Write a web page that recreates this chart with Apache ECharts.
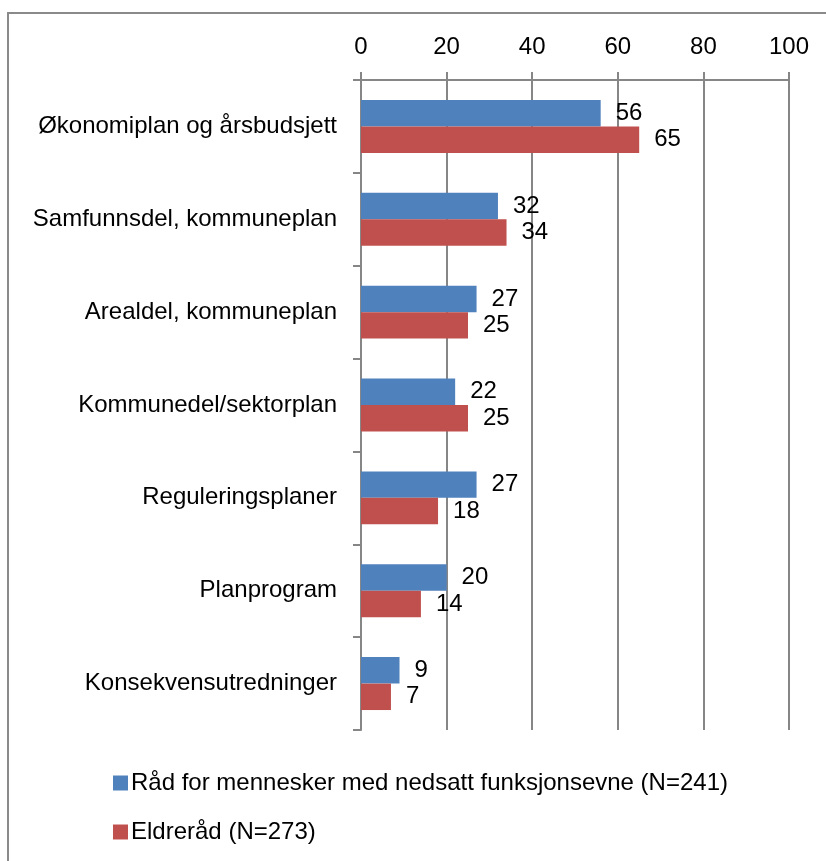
<!DOCTYPE html>
<html>
<head>
<meta charset="utf-8">
<script src="https://cdn.jsdelivr.net/npm/echarts@6/dist/echarts.min.js"></script>
<style>
html,body{margin:0;padding:0;background:#fff;}
#c{width:826px;height:861px;}
</style>
</head>
<body>
<div id="c"></div>
<script>
const categories = ["Økonomiplan og årsbudsjett","Samfunnsdel, kommuneplan","Arealdel, kommuneplan","Kommunedel/sektorplan","Reguleringsplaner","Planprogram","Konsekvensutredninger"];
const seriesNames = ["Råd for mennesker med nedsatt funksjonsevne (N=241)","Eldreråd (N=273)"];
const blueValues = [56,32,27,22,27,20,9];
const redValues = [65,34,25,25,18,14,7];
const valueTicks = [0,20,40,60,80,100];

const FONT = "Liberation Sans";
const FS = 24;
const chart = echarts.init(document.getElementById('c'), null, {renderer:'canvas'});
chart.setOption({
  animation:false,
  backgroundColor:'#fff',
  textStyle:{fontFamily:FONT},
  graphic:[{type:'rect', shape:{x:8,y:13,width:900,height:900}, style:{fill:'none', stroke:'#8a8a8a', lineWidth:2}, silent:true}],
  grid:{left:361,right:37,top:80,bottom:131,containLabel:false},
  legend:{
    orient:'vertical', left:113, top:771, padding:0, itemWidth:15, itemHeight:15, itemGap:25,
    icon:'rect',
    textStyle:{fontFamily:FONT,fontSize:FS,color:'#000',padding:[0,0,0,-2]},
    data:seriesNames
  },
  xAxis:{
    type:'value', position:'top', min:valueTicks[0], max:valueTicks[valueTicks.length-1], interval:20,
    axisLine:{show:true,lineStyle:{color:'#868686',width:2}},
    axisTick:{show:true,length:8,lineStyle:{color:'#868686',width:2}},
    splitLine:{show:true,lineStyle:{color:'#868686',width:2}},
    axisLabel:{fontFamily:FONT,fontSize:FS,color:'#000',margin:21}
  },
  yAxis:{
    type:'category', inverse:true, data:categories,
    axisLine:{show:true,lineStyle:{color:'#868686',width:2}},
    axisTick:{show:true,length:8,alignWithLabel:false,lineStyle:{color:'#868686',width:2}},
    axisLabel:{fontFamily:FONT,fontSize:FS,color:'#000',margin:24}
  },
  series:[
    {name:seriesNames[0], type:'bar', data:blueValues, barGap:'0%', barCategoryGap:'43%',
     itemStyle:{color:'#4F81BD'},
     label:{show:true,position:'right',distance:15,fontFamily:FONT,fontSize:FS,color:'#000'}},
    {name:seriesNames[1], type:'bar', data:redValues, barGap:'0%', barCategoryGap:'43%',
     itemStyle:{color:'#C0504D'},
     label:{show:true,position:'right',distance:15,fontFamily:FONT,fontSize:FS,color:'#000'}}
  ]
});
</script>
</body>
</html>
